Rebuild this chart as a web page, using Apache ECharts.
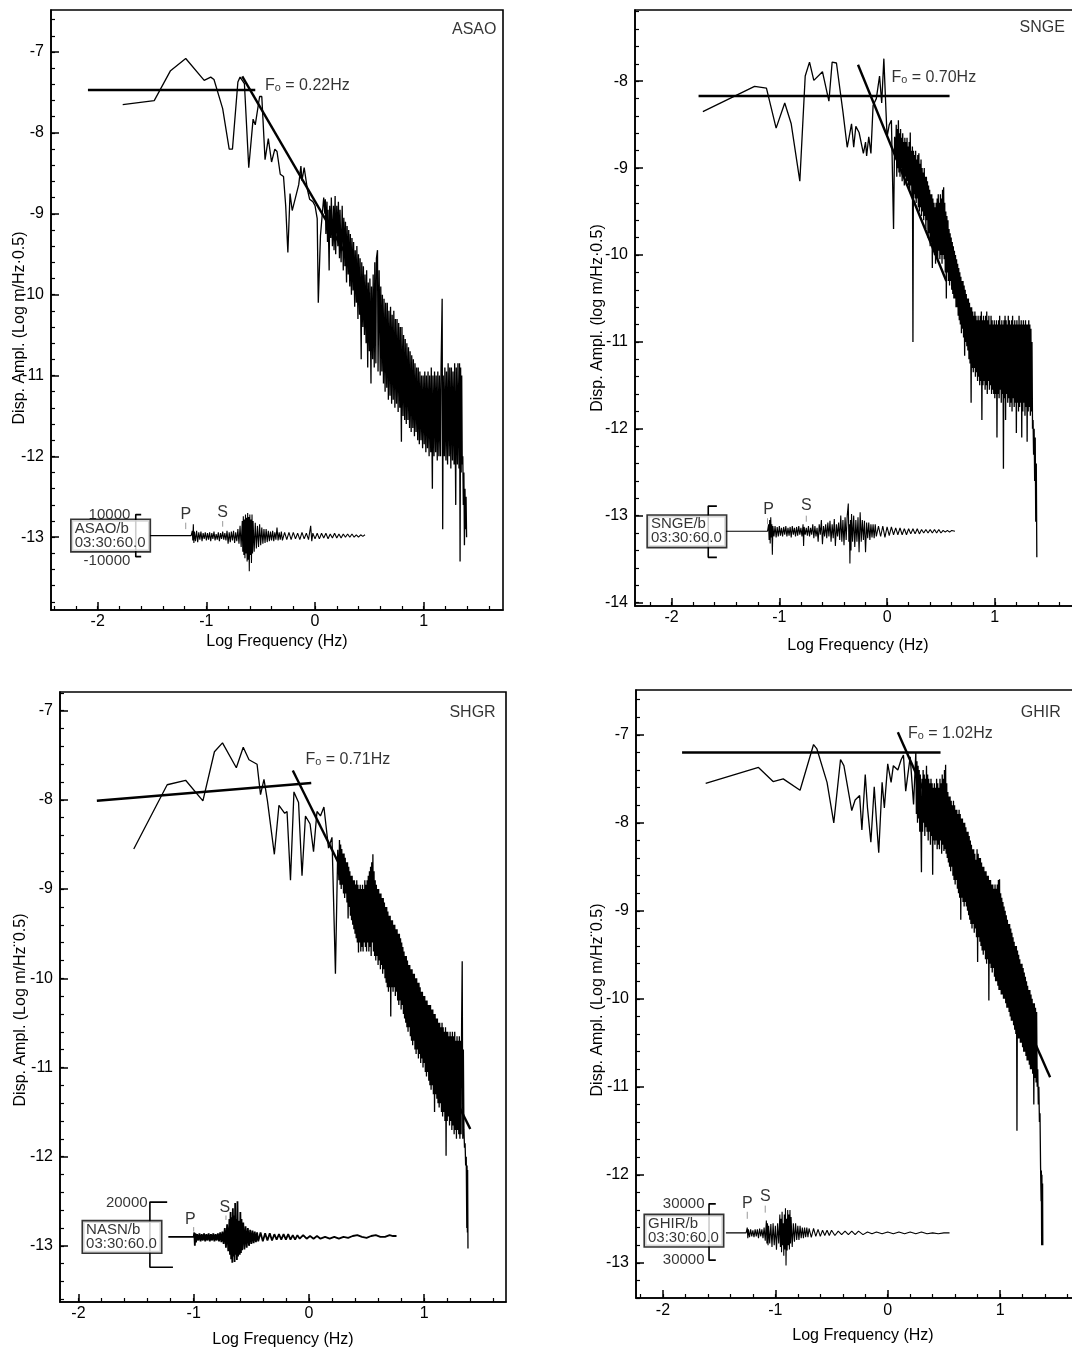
<!DOCTYPE html>
<html><head><meta charset="utf-8">
<script src="https://cdn.jsdelivr.net/npm/echarts@6/dist/echarts.min.js"></script>
<style>html,body{margin:0;padding:0;background:#fff}#c{width:1072px;height:1350px}</style>
</head><body><div id="c"></div>
<script>
// ---------- tick values ----------
const majorXTicks = [-2, -1, 0, 1];
const minorXTicks = [-2.4,-2.2,-2.0,-1.8,-1.6,-1.4,-1.2,-1.0,-0.8,-0.6,-0.4,-0.2,0,0.2,0.4,0.6,0.8,1.0,1.2,1.4,1.6,1.8];
const majorYTicks = [-14,-13,-12,-11,-10,-9,-8,-7];
const minorYTicks = [-14,-13.8,-13.6,-13.4,-13.2,-13,-12.8,-12.6,-12.4,-12.2,-12,-11.8,-11.6,-11.4,-11.2,-11,-10.8,-10.6,-10.4,-10.2,-10,-9.8,-9.6,-9.4,-9.2,-9,-8.8,-8.6,-8.4,-8.2,-8,-7.8,-7.6,-7.4,-7.2,-7,-6.8,-6.6,-6.4];

// ---------- text ----------
const stationNames = ['ASAO', 'SNGE', 'SHGR', 'GHIR'];
const cornerFreqLabels = ['F\u2092 = 0.22Hz', 'F\u2092 = 0.70Hz', 'F\u2092 = 0.71Hz', 'F\u2092 = 1.02Hz'];
const traceBoxLabels = ['ASAO/b\n03:30:60.0', 'SNGE/b\n03:30:60.0', 'NASN/b\n03:30:60.0', 'GHIR/b\n03:30:60.0'];
const yAxisNames = ['Disp. Ampl. (Log m/Hz\u00b70.5)', 'Disp. Ampl. (log m/Hz\u00b70.5)', 'Disp. Ampl. (Log m/Hz\u00a80.5)', 'Disp. Ampl. (Log m/Hz\u00a80.5)'];
const xAxisName = 'Log Frequency (Hz)';
const scaleTopLabels = ['10000', '', '20000', '30000'];
const scaleBottomLabels = ['-10000', '', '', '30000'];

// ---------- ASAO ----------
const asaoSpectrum = [[-1.77,-7.65],[-1.48,-7.60],[-1.33,-7.23],[-1.19,-7.08],[-1.02,-7.35],[-0.96,-7.31],[-0.93,-7.34],[-0.85,-7.70],[-0.79,-8.20],[-0.76,-8.20],[-0.71,-7.37],[-0.69,-7.31],[-0.65,-7.39],[-0.61,-8.43],[-0.57,-7.83],[-0.55,-7.90],[-0.51,-7.55],[-0.49,-7.55],[-0.46,-8.33],[-0.43,-8.07],[-0.40,-8.36],[-0.37,-8.20],[-0.35,-8.23],[-0.32,-8.51],[-0.29,-8.54],[-0.27,-8.90],[-0.25,-9.48],[-0.23,-8.75],[-0.21,-8.96],[-0.18,-8.80],[-0.15,-8.64],[-0.13,-8.41],[-0.12,-8.59],[-0.10,-8.43],[-0.07,-8.70],[-0.05,-8.82],[-0.02,-8.85],[0.00,-8.90],[0.02,-9.06],[0.03,-10.10],[0.05,-9.27],[0.07,-8.95],[0.08,-8.80],
[0.09,-9.0],[0.095,-8.82],[0.10,-9.25],[0.11,-8.85],[0.115,-9.35],[0.12,-8.95],[0.13,-9.7],[0.135,-8.9],[0.145,-9.3],[0.15,-8.8],[0.16,-9.4],[0.17,-8.9],[0.175,-9.45],[0.185,-8.78],[0.19,-9.5],[0.20,-8.9],[0.21,-9.4],[0.215,-8.85],[0.225,-9.55],[0.23,-8.95],[0.24,-9.6],[0.25,-8.9],[0.26,-9.7],[0.265,-9.05],[0.275,-9.65],[0.28,-9.1],[0.29,-9.85],[0.295,-9.15],[0.305,-9.75],[0.31,-9.2],[0.32,-9.9],[0.325,-9.25],[0.335,-10.0],[0.34,-9.3],[0.35,-9.95],[0.355,-9.35],[0.365,-10.15],[0.37,-9.45],[0.38,-10.1],[0.385,-9.4],[0.395,-10.3],[0.40,-9.5],[0.41,-10.25],[0.415,-9.55],[0.425,-10.8],[0.43,-9.6],[0.44,-10.4],[0.445,-9.65],[0.455,-10.5],[0.46,-9.75],[0.47,-10.6],[0.475,-9.7],[0.485,-10.9],[0.49,-9.85],[0.50,-10.7],[0.505,-9.8],[0.515,-11.1],[0.52,-9.9],[0.53,-10.8],[0.535,-9.75],[0.545,-10.9],[0.55,-9.6],[0.56,-10.85],[0.565,-9.55],[0.575,-9.45],[0.58,-10.95],[0.59,-9.7],[0.60,-11.0],[0.605,-9.9],[0.615,-10.95],[0.62,-10.0],[0.63,-11.1],[0.635,-10.05],[0.645,-11.2],[0.65,-10.1],[0.66,-11.15],[0.665,-10.1],[0.675,-11.3],[0.68,-10.2],[0.69,-11.25],[0.695,-10.15],[0.705,-11.35],[0.71,-10.25],[0.72,-11.3],[0.725,-10.2],[0.735,-11.4],[0.74,-10.3],[0.75,-11.35],[0.755,-10.3],[0.765,-11.45],[0.77,-10.35],[0.78,-11.4],[0.785,-10.4],[0.795,-11.82],[0.80,-10.4],[0.81,-11.5],[0.815,-10.5],[0.825,-11.55],[0.83,-10.55],[0.84,-11.6],[0.845,-10.6],[0.855,-11.55],[0.86,-10.65],[0.87,-11.65],[0.875,-10.7],[0.885,-11.7],[0.89,-10.75],[0.90,-11.65],[0.905,-10.8],[0.915,-11.75],[0.92,-10.85],[0.93,-11.7],[0.935,-10.9],[0.945,-11.8],[0.95,-10.9],[0.96,-11.85],[0.965,-10.95],[0.975,-11.8],[0.98,-11.0],[0.99,-11.9],[0.995,-11.0],[1.005,-11.85],[1.01,-10.95],[1.02,-11.95],[1.025,-11.0],[1.035,-11.9],[1.04,-10.95],[1.05,-12.0],[1.055,-11.0],[1.065,-11.95],[1.07,-10.9],[1.08,-12.4],[1.085,-11.0],[1.095,-12.0],[1.10,-10.95],[1.11,-11.95],[1.115,-11.0],[1.125,-12.05],[1.13,-10.95],[1.14,-12.0],[1.145,-11.0],[1.155,-12.0],[1.16,-10.9],[1.17,-10.05],[1.175,-12.9],[1.18,-11.0],[1.19,-12.0],[1.195,-10.9],[1.205,-12.05],[1.21,-10.95],[1.22,-12.1],[1.225,-10.85],[1.235,-12.0],[1.24,-10.9],[1.25,-12.15],[1.255,-10.9],[1.265,-12.05],[1.27,-10.95],[1.28,-12.1],[1.285,-10.85],[1.295,-12.6],[1.30,-10.9],[1.31,-12.1],[1.315,-10.85],[1.325,-12.15],[1.33,-10.85],[1.335,-13.3],[1.34,-10.9],[1.345,-12.2],[1.35,-11.0],[1.355,-12.1],[1.36,-12.0],[1.365,-12.6],[1.37,-12.2],[1.375,-13.1],[1.38,-12.4],[1.385,-12.9],[1.39,-12.5],[1.395,-13.0]];
const asaoFitFlat = [[-2.09,-7.47],[-0.55,-7.47]];
const asaoFitSlope = [[-0.67,-7.30],[0.50,-10.0]];
const asaoTrace = [[-1.52,-12.98],[-1.14,-12.98],[-1.13,-12.92],[-1.125,-13.04],[-1.12,-12.84],[-1.115,-13.07],[-1.11,-12.93],[-1.10,-13.05],[-1.09,-12.92],[-1.08,-13.06],[-1.07,-12.94],[-1.06,-13.03],[-1.05,-12.93],[-1.04,-13.05],[-1.03,-12.95],[-1.02,-13.02],[-1.01,-12.94],[-1.00,-13.04],[-0.99,-12.95],[-0.98,-13.03],[-0.97,-12.94],[-0.96,-13.05],[-0.95,-12.95],[-0.94,-13.02],[-0.93,-12.93],[-0.92,-13.04],[-0.91,-12.96],[-0.90,-13.03],[-0.89,-12.94],[-0.88,-13.05],[-0.87,-12.95],[-0.86,-13.02],[-0.85,-12.93],[-0.84,-13.03],[-0.83,-12.95],[-0.82,-13.04],[-0.81,-12.92],[-0.80,-13.08],[-0.79,-12.94],[-0.78,-13.06],[-0.77,-12.93],[-0.76,-13.04],[-0.75,-12.92],[-0.74,-13.07],[-0.73,-12.94],[-0.72,-13.05],[-0.71,-12.90],[-0.70,-13.08],[-0.69,-12.86],[-0.68,-13.12],[-0.67,-12.80],[-0.665,-13.18],[-0.66,-12.74],[-0.655,-13.22],[-0.65,-12.78],[-0.645,-13.26],[-0.64,-12.72],[-0.635,-13.2],[-0.63,-12.76],[-0.625,-13.3],[-0.62,-12.7],[-0.615,-13.28],[-0.61,-12.75],[-0.605,-13.42],[-0.60,-12.72],[-0.595,-13.22],[-0.59,-12.78],[-0.585,-13.32],[-0.58,-12.72],[-0.575,-13.2],[-0.57,-12.8],[-0.56,-13.18],[-0.55,-12.82],[-0.54,-13.14],[-0.53,-12.86],[-0.52,-13.12],[-0.51,-12.84],[-0.50,-13.1],[-0.49,-12.88],[-0.48,-13.08],[-0.47,-12.9],[-0.46,-13.07],[-0.45,-12.9],[-0.44,-13.06],[-0.43,-12.92],[-0.42,-13.05],[-0.41,-12.93],[-0.40,-13.04],[-0.39,-12.92],[-0.38,-13.05],[-0.37,-12.94],[-0.36,-13.03],[-0.35,-12.88],[-0.34,-13.04],[-0.33,-12.94],[-0.32,-13.03],[-0.31,-12.93],[-0.30,-13.04],[-0.28,-12.94],[-0.26,-13.03],[-0.24,-12.94],[-0.22,-13.03],[-0.20,-12.94],[-0.18,-13.02],[-0.16,-12.95],[-0.14,-13.03],[-0.12,-12.94],[-0.10,-13.02],[-0.08,-12.95],[-0.06,-13.03],[-0.04,-12.86],[-0.03,-13.05],[-0.02,-12.95],[0.00,-13.02],[0.02,-12.95],[0.04,-13.02],[0.06,-12.95],[0.08,-13.01],[0.10,-12.95],[0.12,-13.02],[0.14,-12.96],[0.16,-13.01],[0.18,-12.95],[0.20,-13.01],[0.22,-12.96],[0.24,-13.01],[0.26,-12.96],[0.28,-13.0],[0.30,-12.96],[0.32,-13.0],[0.34,-12.96],[0.36,-13.0],[0.38,-12.97],[0.40,-13.0],[0.42,-12.97],[0.44,-12.99],[0.46,-12.97]];

// ---------- SNGE ----------
const sngeSpectrum = [[-1.71,-8.35],[-1.23,-8.06],[-1.12,-8.08],[-1.03,-8.54],[-0.95,-8.25],[-0.89,-8.49],[-0.81,-9.15],[-0.76,-7.94],[-0.72,-7.78],[-0.68,-7.99],[-0.60,-7.89],[-0.54,-8.23],[-0.51,-7.78],[-0.47,-7.79],[-0.41,-8.35],[-0.37,-8.76],[-0.33,-8.49],[-0.31,-8.76],[-0.29,-8.52],[-0.26,-8.59],[-0.22,-8.83],[-0.20,-8.70],[-0.19,-8.86],[-0.17,-8.64],[-0.15,-8.83],[-0.13,-8.28],[-0.10,-8.20],[-0.07,-7.94],[-0.05,-8.25],[-0.03,-7.74],[-0.01,-8.35],[0.00,-8.64],[0.02,-8.50],[0.04,-8.45],[0.06,-9.70],[0.07,-8.64],
[0.08,-8.9],[0.085,-8.5],[0.09,-9.1],[0.095,-8.55],[0.10,-9.0],[0.105,-8.45],[0.11,-9.05],[0.115,-8.6],[0.12,-9.1],[0.125,-8.55],[0.13,-9.0],[0.135,-8.65],[0.14,-9.15],[0.145,-8.6],[0.15,-9.1],[0.155,-8.7],[0.16,-9.2],[0.165,-8.65],[0.17,-9.1],[0.175,-8.7],[0.18,-9.2],[0.185,-8.65],[0.19,-9.15],[0.195,-8.75],[0.20,-9.2],[0.205,-8.7],[0.21,-9.25],[0.215,-8.59],[0.22,-9.2],[0.225,-8.8],[0.23,-9.3],[0.235,-8.75],[0.24,-11.0],[0.245,-8.8],[0.25,-9.3],[0.255,-8.85],[0.26,-9.35],[0.265,-8.8],[0.27,-9.4],[0.275,-8.9],[0.28,-9.35],[0.285,-8.85],[0.29,-9.45],[0.295,-8.83],[0.30,-9.5],[0.305,-8.95],[0.31,-9.45],[0.315,-8.9],[0.32,-9.55],[0.325,-9.0],[0.33,-9.5],[0.335,-9.05],[0.34,-9.6],[0.345,-9.0],[0.35,-9.55],[0.355,-9.1],[0.36,-9.7],[0.365,-9.1],[0.37,-9.6],[0.375,-9.15],[0.38,-9.8],[0.385,-9.2],[0.39,-9.75],[0.395,-9.25],[0.40,-9.9],[0.405,-9.3],[0.41,-9.85],[0.415,-9.3],[0.42,-10.15],[0.425,-9.35],[0.43,-9.95],[0.435,-9.4],[0.44,-10.0],[0.445,-9.45],[0.45,-10.1],[0.455,-9.4],[0.46,-10.0],[0.465,-9.35],[0.47,-10.05],[0.475,-9.3],[0.48,-9.95],[0.485,-9.4],[0.49,-10.05],[0.495,-9.3],[0.50,-10.0],[0.505,-9.35],[0.51,-10.1],[0.515,-9.25],[0.52,-10.0],[0.525,-9.22],[0.53,-10.05],[0.535,-9.4],[0.54,-10.2],[0.545,-9.5],[0.55,-10.5],[0.555,-9.55],[0.56,-10.2],[0.565,-9.6],[0.57,-10.3],[0.575,-9.7],[0.58,-10.35],[0.585,-9.75],[0.59,-10.3],[0.595,-9.8],[0.60,-10.4],[0.605,-9.85],[0.61,-10.45],[0.615,-9.9],[0.62,-10.5],[0.625,-9.95],[0.63,-10.5],[0.635,-10.0],[0.64,-10.6],[0.645,-10.05],[0.65,-10.6],[0.655,-10.1],[0.66,-10.7],[0.665,-10.15],[0.67,-10.75],[0.675,-10.2],[0.68,-10.8],[0.685,-10.25],[0.69,-10.9],[0.695,-10.3],[0.70,-10.85],[0.705,-10.3],[0.71,-10.95],[0.715,-10.35],[0.72,-11.16],[0.725,-10.4],[0.73,-11.0],[0.735,-10.45],[0.74,-11.05],[0.745,-10.5],[0.75,-11.1],[0.755,-10.5],[0.76,-11.2],[0.765,-10.55],[0.77,-11.25],[0.775,-10.6],[0.78,-11.7],[0.785,-10.6],[0.79,-11.3],[0.795,-10.65],[0.80,-11.35],[0.805,-10.7],[0.81,-11.3],[0.815,-10.65],[0.82,-11.4],[0.825,-10.7],[0.83,-11.35],[0.835,-10.75],[0.84,-11.45],[0.845,-10.7],[0.85,-11.4],[0.855,-10.75],[0.86,-11.5],[0.865,-10.7],[0.87,-11.45],[0.875,-10.65],[0.88,-11.9],[0.885,-10.75],[0.89,-11.5],[0.895,-10.7],[0.90,-11.45],[0.905,-10.75],[0.91,-11.55],[0.915,-10.7],[0.92,-11.5],[0.925,-10.65],[0.93,-11.6],[0.935,-10.75],[0.94,-11.45],[0.945,-10.7],[0.95,-11.55],[0.955,-10.8],[0.96,-11.5],[0.965,-10.7],[0.97,-11.6],[0.975,-10.75],[0.98,-11.55],[0.985,-10.8],[0.99,-11.6],[0.995,-10.75],[1.00,-11.65],[1.005,-10.8],[1.01,-11.6],[1.015,-10.75],[1.02,-12.1],[1.025,-10.8],[1.03,-11.6],[1.035,-10.75],[1.04,-11.65],[1.045,-10.7],[1.05,-11.55],[1.055,-10.8],[1.06,-11.7],[1.065,-10.75],[1.07,-11.6],[1.075,-10.8],[1.08,-12.46],[1.085,-10.75],[1.09,-11.65],[1.095,-10.7],[1.10,-11.9],[1.105,-10.75],[1.11,-11.6],[1.115,-10.8],[1.12,-11.7],[1.125,-10.7],[1.13,-11.65],[1.135,-10.75],[1.14,-11.75],[1.145,-10.8],[1.15,-11.7],[1.155,-10.75],[1.16,-11.8],[1.165,-10.7],[1.17,-11.65],[1.175,-10.8],[1.18,-11.75],[1.185,-10.75],[1.19,-11.7],[1.195,-10.8],[1.20,-12.05],[1.205,-10.75],[1.21,-11.7],[1.215,-10.8],[1.22,-11.8],[1.225,-10.7],[1.23,-11.75],[1.235,-10.8],[1.24,-11.7],[1.245,-10.75],[1.25,-12.1],[1.255,-10.8],[1.26,-11.8],[1.265,-10.75],[1.27,-11.7],[1.275,-10.8],[1.28,-11.85],[1.285,-10.75],[1.29,-11.75],[1.295,-10.8],[1.30,-12.15],[1.305,-10.8],[1.31,-11.8],[1.315,-10.75],[1.32,-11.75],[1.325,-10.8],[1.33,-11.85],[1.335,-10.85],[1.34,-11.8],[1.345,-11.0],[1.35,-12.0],[1.355,-11.9],[1.36,-12.3],[1.365,-12.0],[1.37,-12.6],[1.375,-12.1],[1.38,-13.07],[1.385,-12.4],[1.39,-13.48]];
const sngeFitFlat = [[-1.75,-8.17],[0.58,-8.17]];
const sngeFitSlope = [[-0.27,-7.81],[0.55,-10.3]];
const sngeTrace = [[-1.50,-13.18],[-1.11,-13.18],[-1.10,-13.1],[-1.095,-13.28],[-1.09,-13.05],[-1.085,-13.32],[-1.08,-13.02],[-1.075,-13.25],[-1.07,-13.1],[-1.065,-13.45],[-1.06,-13.12],[-1.05,-13.24],[-1.04,-13.12],[-1.03,-13.25],[-1.02,-13.13],[-1.01,-13.24],[-1.00,-13.12],[-0.99,-13.23],[-0.98,-13.14],[-0.97,-13.24],[-0.96,-13.13],[-0.95,-13.22],[-0.94,-13.12],[-0.93,-13.24],[-0.92,-13.14],[-0.91,-13.23],[-0.90,-13.13],[-0.89,-13.25],[-0.88,-13.12],[-0.87,-13.22],[-0.86,-13.14],[-0.85,-13.24],[-0.84,-13.13],[-0.83,-13.23],[-0.82,-13.12],[-0.81,-13.22],[-0.80,-13.14],[-0.79,-13.24],[-0.78,-13.1],[-0.775,-13.35],[-0.77,-13.13],[-0.76,-13.22],[-0.75,-13.14],[-0.74,-13.23],[-0.73,-13.12],[-0.72,-13.24],[-0.71,-13.14],[-0.70,-13.22],[-0.69,-13.1],[-0.68,-13.26],[-0.67,-13.12],[-0.66,-13.24],[-0.65,-13.14],[-0.64,-13.3],[-0.63,-13.1],[-0.62,-13.22],[-0.61,-13.05],[-0.60,-13.33],[-0.59,-13.12],[-0.58,-13.24],[-0.57,-13.1],[-0.56,-13.26],[-0.55,-13.08],[-0.54,-13.24],[-0.53,-13.06],[-0.52,-13.3],[-0.51,-13.1],[-0.50,-13.26],[-0.49,-13.04],[-0.48,-13.35],[-0.47,-13.1],[-0.46,-13.24],[-0.45,-13.08],[-0.44,-13.28],[-0.43,-13.0],[-0.42,-13.3],[-0.41,-13.05],[-0.40,-13.34],[-0.39,-13.02],[-0.38,-13.28],[-0.37,-13.0],[-0.36,-12.86],[-0.355,-13.3],[-0.35,-13.1],[-0.345,-13.55],[-0.34,-13.05],[-0.335,-13.4],[-0.33,-12.98],[-0.32,-13.3],[-0.31,-13.0],[-0.30,-13.36],[-0.29,-13.05],[-0.28,-13.3],[-0.27,-13.02],[-0.26,-13.42],[-0.25,-12.96],[-0.24,-13.3],[-0.23,-13.05],[-0.22,-13.28],[-0.21,-13.06],[-0.20,-13.42],[-0.19,-13.08],[-0.18,-13.26],[-0.17,-13.08],[-0.16,-13.28],[-0.15,-13.1],[-0.14,-13.25],[-0.13,-13.1],[-0.12,-13.26],[-0.11,-13.1],[-0.10,-13.24],[-0.08,-13.12],[-0.06,-13.24],[-0.04,-13.12],[-0.02,-13.25],[0.00,-13.13],[0.02,-13.23],[0.04,-13.13],[0.06,-13.22],[0.08,-13.14],[0.10,-13.22],[0.12,-13.14],[0.14,-13.22],[0.16,-13.15],[0.18,-13.22],[0.20,-13.15],[0.22,-13.21],[0.24,-13.15],[0.26,-13.21],[0.28,-13.15],[0.30,-13.21],[0.32,-13.16],[0.34,-13.2],[0.36,-13.16],[0.38,-13.2],[0.40,-13.16],[0.42,-13.2],[0.44,-13.16],[0.46,-13.2],[0.48,-13.16],[0.50,-13.2],[0.52,-13.17],[0.54,-13.19],[0.56,-13.17],[0.58,-13.19],[0.60,-13.17],[0.63,-13.18]];

// ---------- SHGR ----------
const shgrSpectrum = [[-1.52,-8.55],[-1.23,-7.83],[-1.07,-7.78],[-0.92,-8.01],[-0.82,-7.46],[-0.75,-7.36],[-0.63,-7.64],[-0.57,-7.41],[-0.52,-7.55],[-0.45,-7.60],[-0.42,-7.94],[-0.39,-7.77],[-0.36,-8.01],[-0.30,-8.61],[-0.26,-8.06],[-0.21,-8.15],[-0.19,-8.13],[-0.16,-8.90],[-0.13,-7.91],[-0.09,-8.03],[-0.06,-8.85],[-0.03,-8.18],[0.01,-8.27],[0.04,-8.58],[0.07,-8.13],[0.10,-8.18],[0.13,-8.08],[0.17,-8.54],[0.20,-8.42],[0.23,-9.95],[0.25,-8.56],
[0.26,-8.9],[0.265,-8.45],[0.27,-8.95],[0.275,-8.5],[0.28,-9.0],[0.285,-8.55],[0.29,-8.95],[0.295,-8.6],[0.30,-9.05],[0.305,-8.6],[0.31,-9.1],[0.315,-8.65],[0.32,-9.05],[0.325,-8.7],[0.33,-9.15],[0.335,-8.7],[0.34,-9.33],[0.345,-8.75],[0.35,-9.2],[0.355,-8.8],[0.36,-9.3],[0.365,-8.85],[0.37,-9.35],[0.375,-8.85],[0.38,-9.4],[0.385,-8.9],[0.39,-9.45],[0.395,-8.9],[0.40,-9.5],[0.405,-8.95],[0.41,-9.55],[0.415,-8.9],[0.42,-9.6],[0.425,-8.95],[0.43,-9.71],[0.435,-9.0],[0.44,-9.6],[0.445,-8.95],[0.45,-9.7],[0.455,-9.0],[0.46,-9.65],[0.465,-8.95],[0.47,-9.7],[0.475,-9.0],[0.48,-9.6],[0.485,-8.9],[0.49,-9.65],[0.495,-8.95],[0.50,-9.7],[0.505,-8.9],[0.51,-9.6],[0.515,-8.85],[0.52,-9.7],[0.525,-8.8],[0.53,-9.65],[0.535,-8.75],[0.54,-9.75],[0.545,-8.7],[0.55,-9.6],[0.555,-8.61],[0.56,-9.7],[0.565,-8.8],[0.57,-9.75],[0.575,-8.9],[0.58,-9.8],[0.585,-8.95],[0.59,-9.75],[0.595,-9.0],[0.60,-9.85],[0.605,-9.0],[0.61,-9.8],[0.615,-9.05],[0.62,-9.9],[0.625,-9.05],[0.63,-9.85],[0.635,-9.1],[0.64,-9.95],[0.645,-9.1],[0.65,-9.9],[0.655,-9.15],[0.66,-10.0],[0.665,-9.2],[0.67,-10.05],[0.675,-9.2],[0.68,-10.1],[0.685,-9.25],[0.69,-10.15],[0.695,-9.3],[0.70,-10.1],[0.705,-9.3],[0.71,-10.43],[0.715,-9.35],[0.72,-10.1],[0.725,-9.35],[0.73,-10.15],[0.735,-9.4],[0.74,-10.1],[0.745,-9.4],[0.75,-10.2],[0.755,-9.45],[0.76,-10.15],[0.765,-9.45],[0.77,-10.25],[0.775,-9.5],[0.78,-10.3],[0.785,-9.5],[0.79,-10.25],[0.795,-9.55],[0.80,-10.35],[0.805,-9.6],[0.81,-10.3],[0.815,-9.65],[0.82,-10.4],[0.825,-9.7],[0.83,-10.45],[0.835,-9.75],[0.84,-10.5],[0.845,-9.75],[0.85,-10.55],[0.855,-9.8],[0.86,-10.6],[0.865,-9.85],[0.87,-10.55],[0.875,-9.85],[0.88,-10.65],[0.885,-9.9],[0.89,-10.7],[0.895,-9.9],[0.90,-10.75],[0.905,-9.95],[0.91,-10.7],[0.915,-9.95],[0.92,-10.8],[0.925,-10.0],[0.93,-10.85],[0.935,-10.0],[0.94,-10.8],[0.945,-10.05],[0.95,-10.9],[0.955,-10.05],[0.96,-10.85],[0.965,-10.1],[0.97,-10.95],[0.975,-10.15],[0.98,-10.9],[0.985,-10.15],[0.99,-11.0],[0.995,-10.2],[1.00,-10.95],[1.005,-10.2],[1.01,-11.05],[1.015,-10.25],[1.02,-11.1],[1.025,-10.25],[1.03,-11.05],[1.035,-10.3],[1.04,-11.15],[1.045,-10.3],[1.05,-11.2],[1.055,-10.3],[1.06,-11.25],[1.065,-10.35],[1.07,-11.2],[1.075,-10.35],[1.08,-11.3],[1.085,-10.4],[1.09,-11.5],[1.095,-10.4],[1.10,-11.3],[1.105,-10.45],[1.11,-11.35],[1.115,-10.45],[1.12,-11.4],[1.125,-10.5],[1.13,-11.45],[1.135,-10.5],[1.14,-11.4],[1.145,-10.55],[1.15,-11.5],[1.155,-10.5],[1.16,-11.55],[1.165,-10.55],[1.17,-11.5],[1.175,-10.6],[1.18,-11.6],[1.185,-10.55],[1.19,-11.99],[1.195,-10.6],[1.20,-11.6],[1.205,-10.6],[1.21,-11.55],[1.215,-10.65],[1.22,-11.65],[1.225,-10.6],[1.23,-11.6],[1.235,-10.65],[1.24,-11.7],[1.245,-10.6],[1.25,-11.65],[1.255,-10.65],[1.26,-11.75],[1.265,-10.6],[1.27,-11.7],[1.275,-10.7],[1.28,-11.8],[1.285,-10.65],[1.29,-11.7],[1.295,-10.7],[1.30,-11.75],[1.305,-10.65],[1.31,-11.8],[1.315,-10.7],[1.32,-11.75],[1.325,-10.5],[1.33,-9.81],[1.335,-11.8],[1.34,-10.8],[1.345,-11.7],[1.35,-11.9],[1.355,-11.85],[1.36,-12.1],[1.365,-12.0],[1.37,-12.8],[1.372,-12.1],[1.375,-12.85],[1.377,-12.15],[1.38,-13.03]];
const shgrFitFlat = [[-1.84,-8.01],[0.02,-7.81]];
const shgrFitSlope = [[-0.14,-7.67],[1.40,-11.69]];
const shgrTrace = [[-1.22,-12.90],[-1.0,-12.90],[-0.995,-12.85],[-0.99,-13.0],[-0.985,-12.86],[-0.98,-12.96],[-0.97,-12.87],[-0.96,-12.94],[-0.95,-12.86],[-0.94,-12.95],[-0.93,-12.87],[-0.92,-12.94],[-0.91,-12.86],[-0.90,-12.95],[-0.89,-12.87],[-0.88,-12.94],[-0.87,-12.86],[-0.86,-12.95],[-0.85,-12.87],[-0.84,-12.94],[-0.83,-12.86],[-0.82,-12.95],[-0.81,-12.87],[-0.80,-12.94],[-0.79,-12.86],[-0.78,-12.95],[-0.77,-12.85],[-0.76,-12.96],[-0.75,-12.84],[-0.74,-12.98],[-0.73,-12.8],[-0.72,-13.02],[-0.71,-12.76],[-0.70,-13.06],[-0.69,-12.7],[-0.685,-13.1],[-0.68,-12.62],[-0.675,-13.15],[-0.67,-12.68],[-0.665,-13.19],[-0.66,-12.58],[-0.655,-13.12],[-0.65,-12.66],[-0.645,-13.18],[-0.64,-12.52],[-0.635,-13.1],[-0.63,-12.7],[-0.625,-13.16],[-0.62,-12.5],[-0.615,-13.12],[-0.61,-12.72],[-0.60,-13.1],[-0.595,-12.62],[-0.59,-13.08],[-0.585,-12.7],[-0.58,-13.05],[-0.57,-12.74],[-0.56,-13.04],[-0.55,-12.78],[-0.54,-13.02],[-0.53,-12.8],[-0.52,-13.0],[-0.51,-12.82],[-0.50,-12.98],[-0.49,-12.83],[-0.48,-12.97],[-0.47,-12.84],[-0.46,-12.96],[-0.45,-12.85],[-0.44,-12.95],[-0.42,-12.85],[-0.40,-12.95],[-0.38,-12.86],[-0.36,-12.94],[-0.34,-12.86],[-0.32,-12.94],[-0.30,-12.87],[-0.28,-12.93],[-0.26,-12.87],[-0.24,-12.93],[-0.22,-12.87],[-0.20,-12.93],[-0.18,-12.87],[-0.16,-12.93],[-0.14,-12.88],[-0.12,-12.93],[-0.10,-12.88],[-0.08,-12.92],[-0.05,-12.88],[-0.02,-12.92],[0.01,-12.89],[0.04,-12.92],[0.07,-12.89],[0.10,-12.92],[0.14,-12.9],[0.18,-12.92],[0.22,-12.9],[0.26,-12.92],[0.30,-12.9],[0.34,-12.91],[0.38,-12.89],[0.42,-12.88],[0.46,-12.9],[0.50,-12.91],[0.54,-12.89],[0.58,-12.88],[0.62,-12.9],[0.66,-12.9],[0.70,-12.88],[0.73,-12.89],[0.76,-12.89]];

// ---------- GHIR ----------
const ghirSpectrum = [[-1.62,-7.55],[-1.15,-7.37],[-1.02,-7.53],[-0.93,-7.50],[-0.78,-7.63],[-0.66,-7.11],[-0.63,-7.16],[-0.54,-7.54],[-0.48,-8.00],[-0.42,-7.28],[-0.39,-7.35],[-0.32,-7.86],[-0.29,-7.74],[-0.25,-7.69],[-0.23,-8.08],[-0.20,-7.45],[-0.18,-7.83],[-0.15,-8.22],[-0.12,-7.59],[-0.10,-7.98],[-0.08,-8.34],[-0.05,-7.54],[-0.03,-7.83],[0.00,-7.33],[0.03,-7.54],[0.05,-7.35],[0.09,-7.40],[0.12,-7.28],[0.14,-7.23],[0.16,-7.64],[0.20,-7.25],[0.23,-7.79],[0.25,-7.20],
[0.255,-7.9],[0.26,-7.3],[0.265,-8.0],[0.27,-7.35],[0.275,-7.95],[0.28,-7.4],[0.285,-8.1],[0.29,-7.45],[0.295,-8.0],[0.30,-8.56],[0.305,-7.5],[0.31,-8.1],[0.315,-7.4],[0.32,-8.0],[0.325,-7.45],[0.33,-8.15],[0.335,-7.5],[0.34,-8.05],[0.345,-7.35],[0.35,-8.1],[0.355,-7.45],[0.36,-8.2],[0.365,-7.5],[0.37,-8.1],[0.375,-7.55],[0.38,-8.25],[0.385,-7.5],[0.39,-8.15],[0.395,-7.55],[0.40,-8.59],[0.405,-7.6],[0.41,-8.2],[0.415,-7.55],[0.42,-8.25],[0.425,-7.6],[0.43,-8.2],[0.435,-7.5],[0.44,-8.3],[0.445,-7.55],[0.45,-8.25],[0.455,-7.6],[0.46,-8.3],[0.465,-7.5],[0.47,-8.2],[0.475,-7.55],[0.48,-8.35],[0.485,-7.45],[0.49,-8.25],[0.495,-7.5],[0.50,-8.32],[0.505,-7.4],[0.51,-8.3],[0.515,-7.34],[0.52,-8.35],[0.525,-7.55],[0.53,-8.4],[0.535,-7.65],[0.54,-8.45],[0.545,-7.7],[0.55,-8.5],[0.555,-7.7],[0.56,-8.55],[0.565,-7.75],[0.57,-8.5],[0.575,-7.8],[0.58,-8.6],[0.585,-7.75],[0.59,-8.65],[0.595,-7.8],[0.60,-8.7],[0.605,-7.85],[0.61,-8.65],[0.615,-7.85],[0.62,-8.75],[0.625,-7.9],[0.63,-8.8],[0.635,-7.85],[0.64,-8.85],[0.645,-7.9],[0.65,-9.1],[0.655,-7.95],[0.66,-8.85],[0.665,-7.95],[0.67,-8.9],[0.675,-8.0],[0.68,-8.95],[0.685,-8.0],[0.69,-8.9],[0.695,-8.05],[0.70,-8.95],[0.705,-8.1],[0.71,-9.0],[0.715,-8.1],[0.72,-9.05],[0.725,-8.15],[0.73,-9.1],[0.735,-8.2],[0.74,-9.15],[0.745,-8.25],[0.75,-9.2],[0.755,-8.3],[0.76,-9.15],[0.765,-8.3],[0.77,-9.25],[0.775,-8.35],[0.78,-9.2],[0.785,-8.42],[0.79,-9.3],[0.795,-8.3],[0.80,-9.58],[0.805,-8.35],[0.81,-9.3],[0.815,-8.4],[0.82,-9.35],[0.825,-8.4],[0.83,-9.4],[0.835,-8.45],[0.84,-9.45],[0.845,-8.5],[0.85,-9.5],[0.855,-8.5],[0.86,-9.45],[0.865,-8.55],[0.87,-9.55],[0.875,-8.55],[0.88,-9.6],[0.885,-8.6],[0.89,-9.55],[0.895,-8.6],[0.90,-10.02],[0.905,-8.65],[0.91,-9.6],[0.915,-8.65],[0.92,-9.65],[0.925,-8.7],[0.93,-9.7],[0.935,-8.7],[0.94,-9.65],[0.945,-8.75],[0.95,-9.75],[0.955,-8.7],[0.96,-9.8],[0.965,-8.75],[0.97,-9.8],[0.975,-8.7],[0.98,-9.85],[0.985,-8.65],[0.99,-9.9],[0.995,-8.64],[1.00,-9.9],[1.005,-8.8],[1.01,-9.95],[1.015,-8.85],[1.02,-9.95],[1.025,-8.9],[1.03,-10.0],[1.035,-8.95],[1.04,-10.0],[1.045,-9.0],[1.05,-10.05],[1.055,-9.05],[1.06,-10.1],[1.065,-9.1],[1.07,-10.1],[1.075,-9.15],[1.08,-10.15],[1.085,-9.15],[1.09,-10.2],[1.095,-9.2],[1.10,-10.25],[1.105,-9.25],[1.11,-10.25],[1.115,-9.3],[1.12,-10.3],[1.125,-9.35],[1.13,-10.35],[1.135,-9.4],[1.14,-10.4],[1.145,-9.4],[1.15,-11.5],[1.155,-9.45],[1.16,-10.45],[1.165,-9.5],[1.17,-10.45],[1.175,-9.55],[1.18,-10.5],[1.185,-9.6],[1.19,-10.5],[1.195,-9.6],[1.20,-10.55],[1.205,-9.65],[1.21,-10.6],[1.215,-9.7],[1.22,-10.6],[1.225,-9.75],[1.23,-10.65],[1.235,-9.8],[1.24,-10.7],[1.245,-9.85],[1.25,-10.7],[1.255,-9.9],[1.26,-10.75],[1.265,-9.9],[1.27,-10.8],[1.275,-9.95],[1.28,-10.8],[1.285,-10.0],[1.29,-10.85],[1.295,-10.05],[1.30,-11.2],[1.305,-10.05],[1.31,-10.9],[1.315,-10.1],[1.32,-10.95],[1.325,-10.15],[1.33,-11.0],[1.335,-10.8],[1.34,-11.2],[1.345,-11.0],[1.35,-11.4],[1.355,-11.3],[1.36,-11.9],[1.365,-12.3],[1.367,-11.95],[1.37,-12.8],[1.372,-12.0],[1.375,-12.7],[1.378,-12.1],[1.38,-12.8]];
const ghirFitFlat = [[-1.83,-7.20],[0.47,-7.20]];
const ghirFitSlope = [[0.09,-6.97],[1.445,-10.89]];
const ghirTrace = [[-1.44,-12.66],[-1.26,-12.66],[-1.25,-12.6],[-1.245,-12.72],[-1.24,-12.62],[-1.23,-12.71],[-1.22,-12.62],[-1.21,-12.7],[-1.20,-12.63],[-1.19,-12.71],[-1.18,-12.62],[-1.17,-12.7],[-1.16,-12.62],[-1.15,-12.72],[-1.14,-12.61],[-1.13,-12.7],[-1.12,-12.62],[-1.11,-12.72],[-1.10,-12.6],[-1.09,-12.75],[-1.08,-12.52],[-1.075,-12.78],[-1.07,-12.55],[-1.065,-12.8],[-1.06,-12.58],[-1.05,-12.78],[-1.04,-12.56],[-1.03,-12.82],[-1.02,-12.55],[-1.01,-12.8],[-1.00,-12.58],[-0.99,-12.85],[-0.98,-12.55],[-0.97,-12.78],[-0.96,-12.45],[-0.955,-12.82],[-0.95,-12.5],[-0.945,-12.88],[-0.94,-12.42],[-0.935,-12.8],[-0.93,-12.55],[-0.925,-12.92],[-0.92,-12.45],[-0.915,-12.85],[-0.91,-12.38],[-0.905,-13.03],[-0.90,-12.5],[-0.895,-12.86],[-0.89,-12.4],[-0.885,-12.8],[-0.88,-12.45],[-0.875,-12.85],[-0.87,-12.4],[-0.865,-12.78],[-0.86,-12.48],[-0.85,-12.82],[-0.84,-12.55],[-0.83,-12.76],[-0.82,-12.55],[-0.81,-12.74],[-0.80,-12.58],[-0.79,-12.74],[-0.78,-12.58],[-0.77,-12.72],[-0.76,-12.6],[-0.75,-12.72],[-0.74,-12.6],[-0.73,-12.71],[-0.72,-12.6],[-0.71,-12.71],[-0.70,-12.61],[-0.68,-12.71],[-0.66,-12.61],[-0.64,-12.7],[-0.62,-12.62],[-0.60,-12.7],[-0.58,-12.63],[-0.56,-12.69],[-0.54,-12.63],[-0.52,-12.69],[-0.50,-12.63],[-0.47,-12.69],[-0.44,-12.64],[-0.41,-12.68],[-0.38,-12.64],[-0.35,-12.68],[-0.32,-12.64],[-0.29,-12.68],[-0.26,-12.64],[-0.22,-12.68],[-0.18,-12.65],[-0.14,-12.67],[-0.10,-12.65],[-0.05,-12.67],[0.0,-12.65],[0.05,-12.67],[0.10,-12.65],[0.15,-12.67],[0.20,-12.65],[0.25,-12.67],[0.30,-12.65],[0.35,-12.67],[0.40,-12.66],[0.45,-12.67],[0.50,-12.66],[0.55,-12.66]];

// ---------- layout (positions / styles only) ----------
const FONT = "'Liberation Sans', Arial, 'DejaVu Sans', sans-serif";
const panels = [
  { grid:{left:51, top:10, width:452, height:600}, x:[-2.43,1.73], y:[-13.9,-6.48],
    spectrum:asaoSpectrum, flat:asaoFitFlat, slope:asaoFitSlope, trace:asaoTrace, traceWidth:1.1,
    xLabelMargin:4, xNameGap:24, yLabelMargin:7, yNameGap:23, yNameShift:18,
    station:[1.67,-6.72], fLabel:[-0.46,-7.42], box:[-2.24,-12.98],
    bracket:[[-1.60,-12.72],[-1.65,-12.72],[-1.65,-13.24],[-1.60,-13.24]],
    scaleTop:[-1.70,-12.72], scaleBottom:[-1.70,-13.29],
    P:[-1.19,-12.72], S:[-0.85,-12.69], Ptick:[[-1.19,-12.82],[-1.19,-12.9]], Stick:[[-0.85,-12.8],[-0.85,-12.87]] },
  { grid:{left:635, top:10, width:446, height:596}, x:[-2.34,1.8], y:[-14.04,-7.18],
    spectrum:sngeSpectrum, flat:sngeFitFlat, slope:sngeFitSlope, trace:sngeTrace, traceWidth:1.1,
    xLabelMargin:4, xNameGap:32, yLabelMargin:7, yNameGap:29, yNameShift:10,
    station:[1.65,-7.38], fLabel:[0.04,-7.96], box:[-2.22,-13.18],
    bracket:[[-1.58,-12.89],[-1.66,-12.89],[-1.66,-13.48],[-1.58,-13.48]],
    scaleTop:null, scaleBottom:null,
    P:[-1.1,-12.93], S:[-0.75,-12.89], Ptick:[[-1.11,-13.03],[-1.11,-13.1]], Stick:[[-0.75,-13.0],[-0.75,-13.07]] },
  { grid:{left:60, top:692, width:446, height:610}, x:[-2.16,1.71], y:[-13.63,-6.79],
    spectrum:shgrSpectrum, flat:shgrFitFlat, slope:shgrFitSlope, trace:shgrTrace, traceWidth:1.8,
    xLabelMargin:4, xNameGap:30, yLabelMargin:7, yNameGap:31, yNameShift:13,
    station:[1.62,-7.02], fLabel:[-0.03,-7.55], box:[-1.96,-12.9],
    bracket:[[-1.23,-12.51],[-1.38,-12.51],[-1.38,-13.24],[-1.18,-13.24]],
    scaleTop:[-1.40,-12.52], scaleBottom:null,
    P:[-1.03,-12.71], S:[-0.73,-12.57], Ptick:[[-1.0,-12.79],[-1.0,-12.84]], Stick:[[-0.72,-12.66],[-0.72,-12.71]] },
  { grid:{left:636, top:690, width:454, height:608}, x:[-2.24,1.8], y:[-13.4,-6.49],
    spectrum:ghirSpectrum, flat:ghirFitFlat, slope:ghirFitSlope, trace:ghirTrace, traceWidth:1.1,
    xLabelMargin:5, xNameGap:30, yLabelMargin:7, yNameGap:30, yNameShift:6,
    station:[1.54,-6.75], fLabel:[0.18,-6.98], box:[-2.16,-12.635],
    bracket:[[-1.53,-12.33],[-1.59,-12.33],[-1.59,-12.97],[-1.53,-12.97]],
    scaleTop:[-1.63,-12.33], scaleBottom:[-1.63,-12.97],
    P:[-1.25,-12.33], S:[-1.09,-12.25], Ptick:[[-1.25,-12.42],[-1.25,-12.5]], Stick:[[-1.09,-12.35],[-1.09,-12.43]] }
];

const grids = [], xAxes = [], yAxes = [], series = [];
const txt = { color:'#000', fontSize:16, fontFamily:FONT };
const smallTxt = { color:'#000', fontSize:15, fontFamily:FONT };

function lineSeries(idx, data, width, color, z) {
  return { type:'line', xAxisIndex:2*idx, yAxisIndex:2*idx, data:data, showSymbol:false, symbol:'none',
    lineStyle:{ color:color, width:width }, z:z, silent:true, animation:false, clip:false, sampling:null };
}
function textItem(pt, text, position, style, extra) {
  return { value:pt, label:Object.assign({ show:true, formatter:text, position:position, distance:0 }, style, extra || {}) };
}

panels.forEach((p, i) => {
  const inX = v => v >= p.x[0] - 1e-9 && v <= p.x[1] + 1e-9;
  const inY = v => v >= p.y[0] - 1e-9 && v <= p.y[1] + 1e-9;
  grids.push({ left:p.grid.left, top:p.grid.top, width:p.grid.width, height:p.grid.height,
    show:true, borderColor:'#000', borderWidth:1.6, backgroundColor:'transparent', containLabel:false, outerBoundsMode:'none' });
  xAxes.push({ gridIndex:i, type:'value', min:p.x[0], max:p.x[1], position:'bottom',
    axisLine:{ show:true, onZero:false, lineStyle:{ color:'#000', width:1.6 } },
    axisTick:{ show:true, inside:true, length:8, customValues:majorXTicks.filter(inX), lineStyle:{ color:'#000', width:1.5 } },
    axisLabel:{ show:true, customValues:majorXTicks.filter(inX), margin:p.xLabelMargin, ...txt },
    splitLine:{ show:false },
    name:xAxisName, nameLocation:'middle', nameGap:p.xNameGap, nameMoveOverlap:false, nameTextStyle:{ ...txt } });
  xAxes.push({ gridIndex:i, type:'value', min:p.x[0], max:p.x[1], position:'bottom',
    axisLine:{ show:false, onZero:false },
    axisTick:{ show:true, inside:true, length:4, customValues:minorXTicks.filter(inX), lineStyle:{ color:'#000', width:1.2 } },
    axisLabel:{ show:false }, splitLine:{ show:false } });
  yAxes.push({ gridIndex:i, type:'value', min:p.y[0], max:p.y[1], position:'left',
    axisLine:{ show:true, onZero:false, lineStyle:{ color:'#000', width:1.6 } },
    axisTick:{ show:true, inside:true, length:8, customValues:majorYTicks.filter(inY), lineStyle:{ color:'#000', width:1.5 } },
    axisLabel:{ show:true, customValues:majorYTicks.filter(inY), margin:p.yLabelMargin, ...txt },
    splitLine:{ show:false },
    name:yAxisNames[i], nameLocation:'middle', nameRotate:90, nameGap:p.yNameGap, nameMoveOverlap:false,
    nameTextStyle:{ ...txt, padding:[0, 2*p.yNameShift, 0, 0] } });
  yAxes.push({ gridIndex:i, type:'value', min:p.y[0], max:p.y[1], position:'left',
    axisLine:{ show:false, onZero:false },
    axisTick:{ show:true, inside:true, length:4, customValues:minorYTicks.filter(inY), lineStyle:{ color:'#000', width:1.2 } },
    axisLabel:{ show:false }, splitLine:{ show:false } });

  series.push(lineSeries(i, p.spectrum, 1.3, '#000', 3));
  series.push(lineSeries(i, p.flat, 2.4, '#000', 4));
  series.push(lineSeries(i, p.slope, 2.4, '#000', 4));
  series.push(lineSeries(i, p.trace, p.traceWidth, '#000', 3));
  series.push(lineSeries(i, p.bracket, 1.6, '#000', 3));
  series.push(lineSeries(i, p.Ptick, 1, '#999', 3));
  series.push(lineSeries(i, p.Stick, 1, '#999', 3));

  const texts = [
    textItem(p.station, stationNames[i], 'left', txt),
    textItem(p.fLabel, cornerFreqLabels[i], 'right', txt),
    textItem(p.P, 'P', 'inside', txt),
    textItem(p.S, 'S', 'inside', txt),
    textItem(p.box, traceBoxLabels[i], 'right', smallTxt, { align:'left', lineHeight:14, backgroundColor:'#fff', borderColor:'#000', borderWidth:1.6, padding:[2,4,1,3] })
  ];
  if (p.scaleTop) texts.push(textItem(p.scaleTop, scaleTopLabels[i], 'left', smallTxt));
  if (p.scaleBottom) texts.push(textItem(p.scaleBottom, scaleBottomLabels[i], 'left', smallTxt));
  series.push({ type:'scatter', xAxisIndex:2*i, yAxisIndex:2*i, symbolSize:0, data:texts, z:10, silent:true, animation:false, clip:false });
});

const chart = echarts.init(document.getElementById('c'), null, { renderer:'canvas' });
chart.setOption({ animation:false, backgroundColor:'#fff', grid:grids, xAxis:xAxes, yAxis:yAxes, series:series });
</script></body></html>
